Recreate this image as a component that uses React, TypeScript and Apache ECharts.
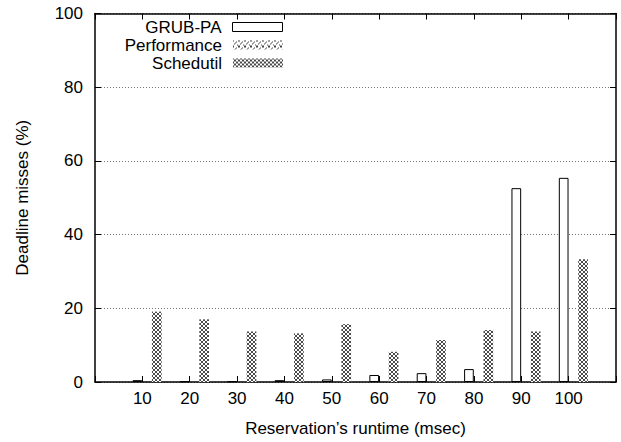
import React, { useEffect, useRef } from "react";
import * as echarts from "echarts";

const runtimes = [10, 20, 30, 40, 50, 60, 70, 80, 90, 100];
const grubPA = [0.5, 0.2, 0.2, 0.5, 0.7, 1.9, 2.4, 3.5, 52.6, 55.4];
const performance = [0, 0, 0, 0, 0, 0, 0, 0, 0, 0];
const schedutil = [19.1, 17.0, 13.7, 13.2, 15.7, 8.2, 11.4, 14.1, 13.7, 33.3];
const yTicks = [0, 20, 40, 60, 80, 100];
const seriesNames = ["GRUB-PA", "Performance", "Schedutil"];

const FONT = "'Liberation Sans', Arial, sans-serif";
const FS = 17;

function makePattern(cells: number[][], size: number, ink: string) {
  const c = document.createElement("canvas");
  c.width = size;
  c.height = size;
  const ctx = c.getContext("2d")!;
  ctx.fillStyle = "#fff";
  ctx.fillRect(0, 0, size, size);
  ctx.fillStyle = ink;
  cells.forEach(([x, y]) => ctx.fillRect(x, y, 1, 1));
  return c;
}

export default function App() {
  const ref = useRef<HTMLDivElement>(null);
  useEffect(() => {
    if (!ref.current) return;
    const chart = echarts.init(ref.current, null, { renderer: "svg" });
    const pair = (vals: number[]) => runtimes.map((r, i) => [r, vals[i]]);
    const schedCanvas = makePattern(
      [
        [0, 0], [1, 1], [2, 2], [3, 3],
        [3, 0], [2, 1], [1, 2], [0, 3],
      ],
      4,
      "#4a4a4a"
    );
    const perfCanvas = makePattern(
      [
        [0, 0], [2, 2], [3, 1], [1, 3], [4, 4], [5, 5], [5, 0], [0, 5],
      ],
      6,
      "#444"
    );
    const schedFill = { image: schedCanvas, repeat: "repeat" };
    const perfFill = { image: perfCanvas, repeat: "repeat" };
    const legendBase = {
      orient: "vertical",
      right: 338,
      padding: 0,
      align: "right",
      itemWidth: 50,
      itemHeight: 9,
      icon: "rect",
      textStyle: { fontFamily: FONT, fontSize: FS, color: "#000", padding: [0, 6, 0, 0] },
      selectedMode: false,
    };
    const axisLineStyle = { onZero: false, lineStyle: { color: "#000", width: 1.5 } };
    const tickStyle = { inside: true, length: 6, lineStyle: { color: "#000", width: 1 } };
    chart.setOption({
      animation: false,
      backgroundColor: "#fff",
      textStyle: { fontFamily: FONT },
      grid: { left: 95, right: 5, top: 13.5, bottom: 59, containLabel: false },
      legend: [
        { ...legendBase, top: 18.5, data: [seriesNames[0]], itemStyle: { borderColor: "#000", borderWidth: 1 } },
        { ...legendBase, top: 36.5, data: [seriesNames[1]] },
        { ...legendBase, top: 54.5, data: [seriesNames[2]] },
      ],
      xAxis: [
        {
          type: "value",
          min: 0,
          max: 110,
          interval: 10,
          position: "bottom",
          name: "Reservation\u2019s runtime (msec)",
          nameLocation: "middle",
          nameGap: 38,
          nameTextStyle: { fontFamily: FONT, fontSize: FS, color: "#000" },
          axisLine: axisLineStyle,
          axisTick: tickStyle,
          splitLine: { show: false },
          axisLabel: {
            fontFamily: FONT,
            fontSize: FS,
            color: "#000",
            margin: 8,
            formatter: (v: number) => (runtimes.includes(v) ? String(v) : ""),
          },
        },
        {
          type: "value",
          min: 0,
          max: 110,
          interval: 10,
          position: "top",
          axisLine: axisLineStyle,
          axisTick: tickStyle,
          axisLabel: { show: false },
          splitLine: { show: false },
        },
        {
          type: "value",
          min: -1,
          max: 109,
          show: false,
          position: "bottom",
        },
      ],
      yAxis: [
        {
          type: "value",
          min: 0,
          max: 100,
          interval: 20,
          position: "left",
          name: "Deadline misses (%)",
          nameLocation: "middle",
          nameGap: 64,
          nameRotate: 90,
          nameTextStyle: { fontFamily: FONT, fontSize: FS, color: "#000" },
          axisLine: { show: true, ...axisLineStyle },
          axisTick: tickStyle,
          axisLabel: {
            fontFamily: FONT,
            fontSize: FS,
            color: "#000",
            margin: 12,
            formatter: (v: number) => (yTicks.includes(v) ? String(v) : ""),
          },
          splitLine: {
            show: true,
            lineStyle: { color: "#777", width: 1, type: [1, 2] },
          },
        },
        {
          type: "value",
          min: 0,
          max: 100,
          interval: 20,
          position: "right",
          axisLine: { show: true, ...axisLineStyle },
          axisTick: tickStyle,
          axisLabel: { show: false },
          splitLine: { show: false },
        },
      ],
      series: [
        {
          name: seriesNames[0],
          type: "bar",
          xAxisIndex: 2,
          yAxisIndex: 0,
          barWidth: 9.7,
          barGap: "0%",
          data: pair(grubPA),
          itemStyle: { color: "#fff", borderColor: "#000", borderWidth: 1 },
        },
        {
          name: seriesNames[1],
          type: "bar",
          xAxisIndex: 2,
          yAxisIndex: 0,
          barWidth: 9.7,
          barGap: "0%",
          data: pair(performance),
          itemStyle: { color: perfFill },
        },
        {
          name: seriesNames[2],
          type: "bar",
          xAxisIndex: 2,
          yAxisIndex: 0,
          barWidth: 9.7,
          barGap: "0%",
          data: pair(schedutil),
          itemStyle: { color: schedFill },
        },
      ],
    });
    return () => chart.dispose();
  }, []);
  return (
    <div
      ref={ref}
      style={{ position: "fixed", left: 0, top: 0, width: 621, height: 442, background: "#fff" }}
    />
  );
}
